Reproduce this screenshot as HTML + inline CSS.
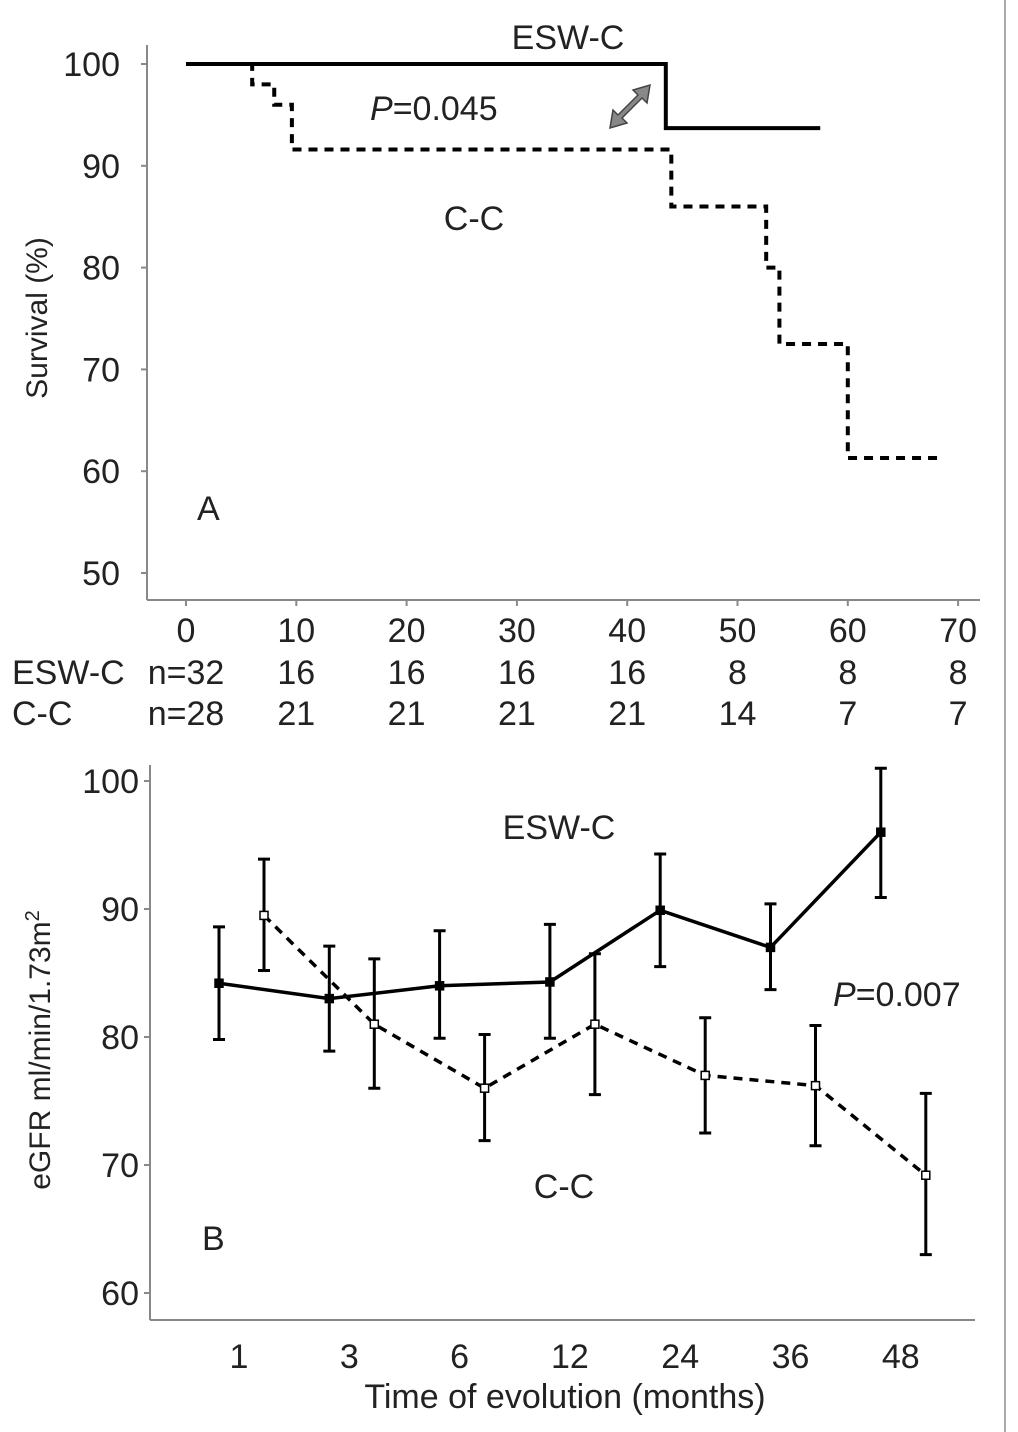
<!DOCTYPE html>
<html><head><meta charset="utf-8"><style>
body{margin:0;background:#fff}
svg{display:block;font-family:"Liberation Sans",sans-serif}
</style></head><body>
<svg id="c" width="1018" height="1432" viewBox="0 0 1018 1432">
<line x1="1005" y1="0" x2="1005" y2="1432" stroke="#aaa" stroke-width="2"/>
</svg>
<script>
const NS="http://www.w3.org/2000/svg";
const svg=document.getElementById('c');
// Panel A data
const kmEswT=[0,43.5,57.5];
const kmEswS=[100,93.7,93.7];
const kmCcT=[0,6,8,9.6,44,52.6,53.8,60,68.5];
const kmCcS=[100,98,96,91.6,86,80,72.5,61.3,61.3];
const aXTicks=[0,10,20,30,40,50,60,70];
const aYTicks=[100,90,80,70,60,50];
const nEsw=["n=32","16","16","16","16","8","8","8"];
const nCc=["n=28","21","21","21","21","14","7","7"];
// Panel B data
const bCats=["1","3","6","12","24","36","48"];
const eswMean=[84.2,83,84,84.3,89.9,87,96];
const eswLo=[79.8,78.9,79.9,79.9,85.5,83.7,90.9];
const eswHi=[88.6,87.1,88.3,88.8,94.3,90.4,101];
const ccMean=[89.5,81,76,81,77,76.2,69.2];
const ccLo=[85.2,76,71.9,75.5,72.5,71.5,63];
const ccHi=[93.9,86.1,80.2,86.5,81.5,80.9,75.6];
const bYTicks=[100,90,80,70,60];

const FS=34;
function el(t,a,txt){const e=document.createElementNS(NS,t);for(const k in a)e.setAttribute(k,a[k]);if(txt!=null)e.textContent=txt;svg.appendChild(e);return e;}
const ax=t=>186+t*11.03, ay=v=>64+(100-v)*10.18;
const bx=i=>239+i*110.3, by=v=>781+(100-v)*12.8;

// Panel A axes
let e=el('line',{x1:147,y1:45,x2:147,y2:600,stroke:'#888','stroke-width':2});

e=el('line',{x1:147,y1:600,x2:980,y2:600,stroke:'#888','stroke-width':2});

aYTicks.forEach(v=>{
 e=el('line',{x1:141,y1:ay(v),x2:147,y2:ay(v),stroke:'#888','stroke-width':2});
 
 e=el('text',{x:120,y:ay(v)+12,'font-size':FS,'text-anchor':'end',fill:'#222'},v);
 
});
aXTicks.forEach((t,i)=>{
 e=el('line',{x1:ax(t),y1:600,x2:ax(t),y2:606,stroke:'#888','stroke-width':2});
 
 e=el('text',{x:ax(t),y:642,'font-size':FS,'text-anchor':'middle',fill:'#222'},t);
 
 e=el('text',{x:ax(t),y:684,'font-size':FS,'text-anchor':'middle',fill:'#222'},nEsw[i]);
 
 e=el('text',{x:ax(t),y:725,'font-size':FS,'text-anchor':'middle',fill:'#222'},nCc[i]);
 
});
e=el('text',{x:12,y:684,'font-size':FS,fill:'#222'},'ESW-C');
e=el('text',{x:12,y:725,'font-size':FS,fill:'#222'},'C-C');
e=el('text',{x:0,y:0,'font-size':30,'text-anchor':'middle',fill:'#222',transform:'translate(47,318) rotate(-90)'},'Survival (%)');


function stepPath(T,S){let d=`M${ax(T[0])},${ay(S[0])}`;for(let i=1;i<T.length;i++){d+=` H${ax(T[i])} V${ay(S[i])}`;}return d;}
e=el('path',{d:stepPath(kmEswT,kmEswS),fill:'none',stroke:'#000','stroke-width':4});

e=el('path',{d:stepPath(kmCcT,kmCcS),fill:'none',stroke:'#000','stroke-width':4,'stroke-dasharray':'9,7'});

e=el('text',{x:568,y:49,'font-size':FS,'text-anchor':'middle',fill:'#222'},'ESW-C');
e=el('text',{x:474,y:230,'font-size':FS,'text-anchor':'middle',fill:'#222'},'C-C');
e=el('text',{x:370,y:120,'font-size':FS,fill:'#222'});e.innerHTML='<tspan font-style="italic">P</tspan>=0.045';

e=el('text',{x:197,y:520,'font-size':FS,fill:'#222'},'A');
e=el('path',{d:'M610,128 L613,110 L618,115 L638,95 L633,90 L650,85 L647,103 L642,98 L622,118 L627,123 Z',fill:'#888',stroke:'#444','stroke-width':1.5});


// Panel B axes
e=el('line',{x1:150,y1:765,x2:150,y2:1320,stroke:'#888','stroke-width':2});
e=el('line',{x1:150,y1:1320,x2:975,y2:1320,stroke:'#888','stroke-width':2});
bYTicks.forEach(v=>{
 e=el('line',{x1:144,y1:by(v),x2:150,y2:by(v),stroke:'#888','stroke-width':2});
 e=el('text',{x:139,y:by(v)+12,'font-size':FS,'text-anchor':'end',fill:'#222'},v);
});
bCats.forEach((c,i)=>{
 e=el('text',{x:bx(i),y:1368,'font-size':FS,'text-anchor':'middle',fill:'#222'},c);
});
e=el('text',{x:565,y:1408,'font-size':FS,'text-anchor':'middle',fill:'#222'},'Time of evolution (months)');
e=el('text',{x:0,y:0,'font-size':30,'text-anchor':'middle',fill:'#222',transform:'translate(50,1050) rotate(-90)'});e.innerHTML='eGFR ml/min/1.73m<tspan dy="-11" font-size="20">2</tspan>';


function series(mean,lo,hi,off,dash,name,fillc){
 const pts=mean.map((v,i)=>`${bx(i)+off},${by(v)}`).join(' ');
 e=el('polyline',{points:pts,fill:'none',stroke:'#000','stroke-width':3.5,'stroke-dasharray':dash});
 
 mean.forEach((v,i)=>{
  const x=bx(i)+off;
  e=el('path',{d:`M${x},${by(lo[i])} V${by(hi[i])} M${x-6},${by(lo[i])} H${x+6} M${x-6},${by(hi[i])} H${x+6}`,stroke:'#000','stroke-width':3,fill:'none'});
  
  e=el('rect',{x:x-4,y:by(v)-4,width:8,height:8,fill:fillc,stroke:'#000','stroke-width':1.5});
  
 });
}
series(ccMean,ccLo,ccHi,25,'9,7','cc','#fff');
series(eswMean,eswLo,eswHi,-20,'none','esw-c','#000');
e=el('text',{x:559,y:839,'font-size':FS,'text-anchor':'middle',fill:'#222'},'ESW-C');
e=el('text',{x:564,y:1198,'font-size':FS,'text-anchor':'middle',fill:'#222'},'C-C');
e=el('text',{x:833,y:1006,'font-size':FS,fill:'#222'});e.innerHTML='<tspan font-style="italic">P</tspan>=0.007';

e=el('text',{x:202,y:1250,'font-size':FS,fill:'#222'},'B');
</script>
</body></html>
